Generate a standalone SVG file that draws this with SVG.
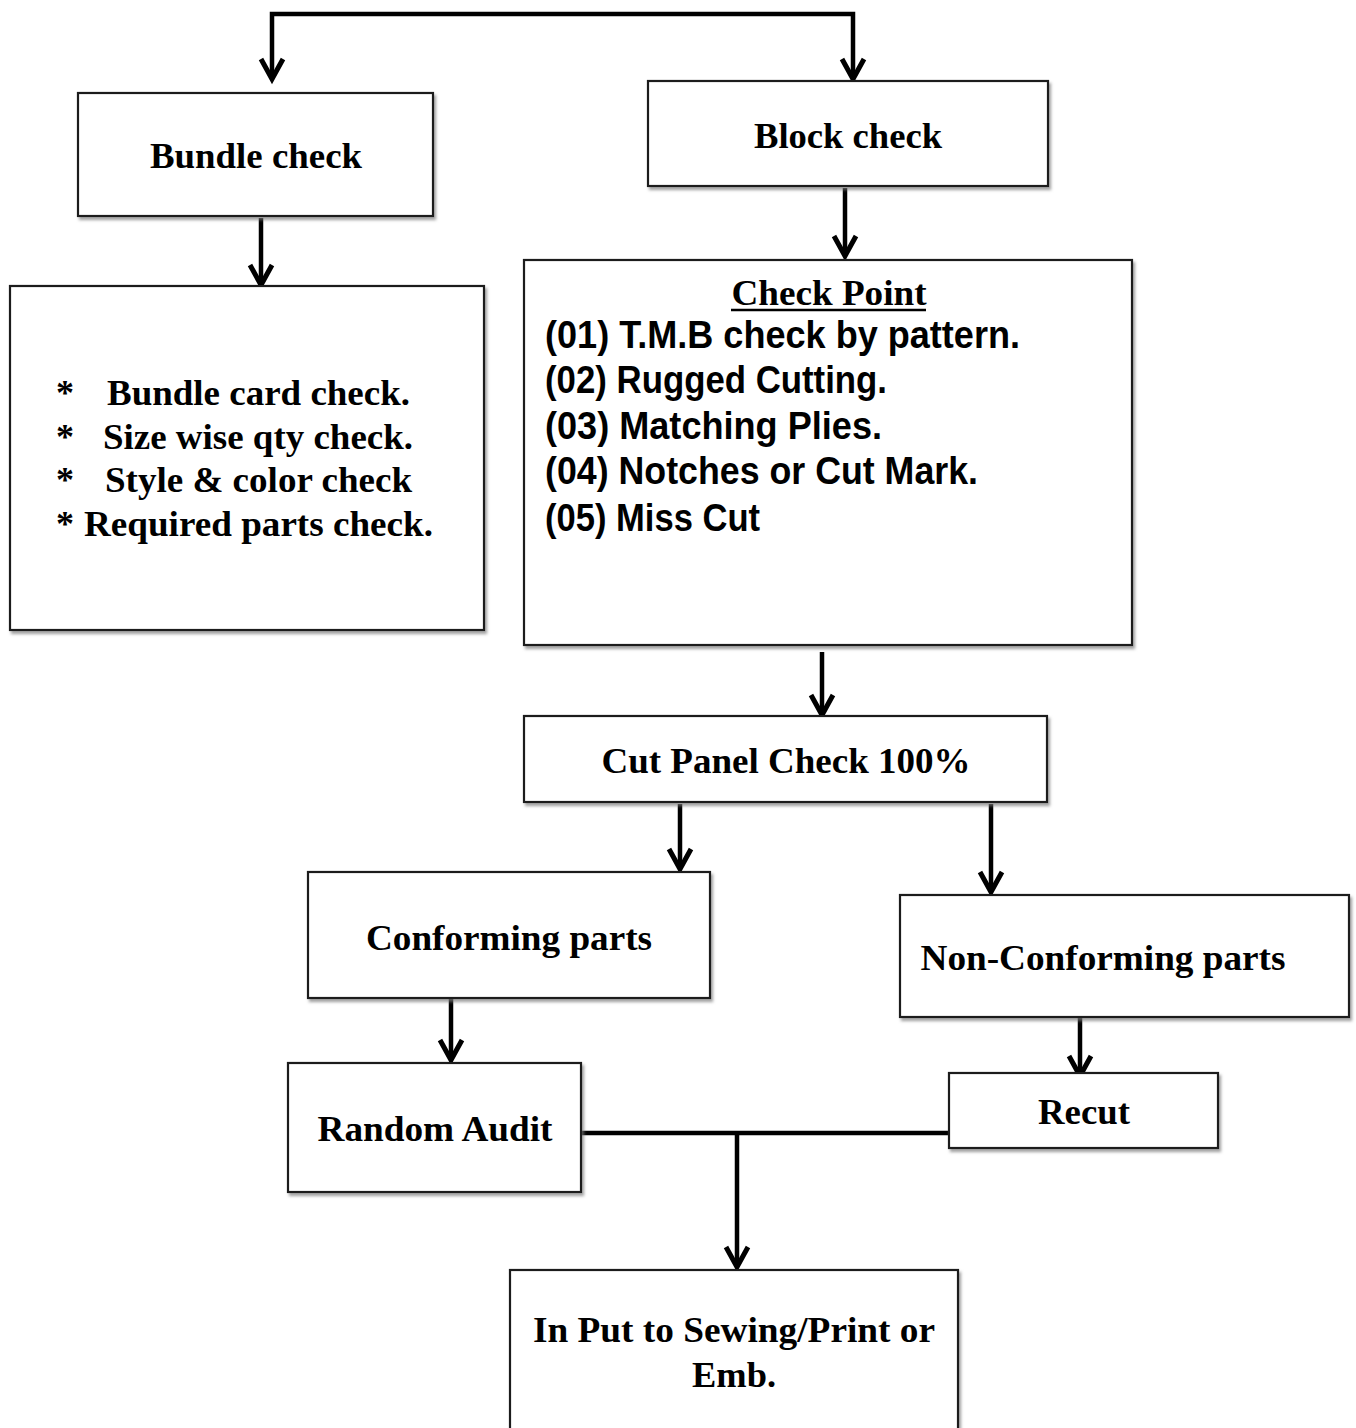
<svg xmlns="http://www.w3.org/2000/svg" width="1356" height="1428" viewBox="0 0 1356 1428">
  <style>
    .box { fill: #ffffff; stroke: #1a1a1a; stroke-width: 2.2; filter: url(#shadow); }
    .serif { font-family: "Liberation Serif", "Times New Roman", serif; font-weight: bold; font-size: 36px; fill: #000; }
    .sans { font-family: "Liberation Sans", Arial, sans-serif; font-weight: bold; font-size: 38px; fill: #000; }
    .wire { fill: none; stroke: #000; stroke-width: 4.5; }
  </style>
  <defs>
    <filter id="shadow" x="-5%" y="-5%" width="115%" height="120%">
      <feDropShadow dx="2" dy="3" stdDeviation="1.6" flood-color="#7a7a7a" flood-opacity="0.7"/>
    </filter>
    <marker id="chev" markerUnits="userSpaceOnUse" viewBox="-26 -16 30 32" refX="0" refY="0" markerWidth="30" markerHeight="32" orient="auto" overflow="visible">
      <path d="M -20 -11 L 0 0 L -20 11" fill="none" stroke="#000" stroke-width="5" stroke-linejoin="miter"/>
    </marker>
  </defs>

  <rect width="1356" height="1428" fill="#ffffff"/>

  <!-- connectors -->
  <g id="connectors">
    <path class="wire" d="M 560 14 H 272 V 79" marker-end="url(#chev)"/>
    <path class="wire" d="M 560 14 H 853 V 79" marker-end="url(#chev)"/>
    <path class="wire" d="M 261 218 V 285" marker-end="url(#chev)"/>
    <path class="wire" d="M 845 188 V 256" marker-end="url(#chev)"/>
    <path class="wire" d="M 822 652 V 715" marker-end="url(#chev)"/>
    <path class="wire" d="M 680 804 V 869" marker-end="url(#chev)"/>
    <path class="wire" d="M 991 804 V 892" marker-end="url(#chev)"/>
    <path class="wire" d="M 451 993 V 1060" marker-end="url(#chev)"/>
    <path class="wire" d="M 1080 1012 V 1076" marker-end="url(#chev)"/>
    <path class="wire" d="M 581 1133 H 949" stroke-width="6"/>
    <path class="wire" d="M 737 1133 V 1267" marker-end="url(#chev)"/>
  </g>

  <g id="bundle-check">
    <rect class="box" x="78" y="93" width="355" height="123"/>
    <text class="serif" x="256" y="168" text-anchor="middle" textLength="212" lengthAdjust="spacingAndGlyphs">Bundle check</text>
  </g>

  <g id="bundle-items">
    <rect class="box" x="10" y="286" width="474" height="344"/>
    <text class="serif" x="56" y="405">*</text>
    <text class="serif" x="56" y="449">*</text>
    <text class="serif" x="56" y="492">*</text>
    <text class="serif" x="56" y="536">*</text>
    <text class="serif" x="107" y="405" textLength="303" lengthAdjust="spacingAndGlyphs">Bundle card check.</text>
    <text class="serif" x="103" y="449" textLength="310" lengthAdjust="spacingAndGlyphs">Size wise qty check.</text>
    <text class="serif" x="105" y="492" textLength="307" lengthAdjust="spacingAndGlyphs">Style &amp; color check</text>
    <text class="serif" x="84" y="536" textLength="349" lengthAdjust="spacingAndGlyphs">Required parts check.</text>
  </g>

  <g id="block-check">
    <rect class="box" x="648" y="81" width="400" height="105"/>
    <text class="serif" x="848" y="148" text-anchor="middle" textLength="188" lengthAdjust="spacingAndGlyphs">Block check</text>
  </g>

  <g id="check-point">
    <rect class="box" x="524" y="260" width="608" height="385"/>
    <text class="serif" x="829" y="305" text-anchor="middle" textLength="195" lengthAdjust="spacingAndGlyphs">Check Point</text>
    <line x1="731" y1="310" x2="926" y2="310" stroke="#000" stroke-width="2.5"/>
    <text class="sans" x="545" y="348" textLength="475" lengthAdjust="spacingAndGlyphs">(01) T.M.B check by pattern.</text>
    <text class="sans" x="545" y="393" textLength="342" lengthAdjust="spacingAndGlyphs">(02) Rugged Cutting.</text>
    <text class="sans" x="545" y="439" textLength="337" lengthAdjust="spacingAndGlyphs">(03) Matching Plies.</text>
    <text class="sans" x="545" y="484" textLength="433" lengthAdjust="spacingAndGlyphs">(04) Notches or Cut Mark.</text>
    <text class="sans" x="545" y="531" textLength="215" lengthAdjust="spacingAndGlyphs">(05) Miss Cut</text>
  </g>

  <g id="cut-panel-check">
    <rect class="box" x="524" y="716" width="523" height="86"/>
    <text class="serif" x="786" y="773" text-anchor="middle" textLength="369" lengthAdjust="spacingAndGlyphs">Cut Panel Check 100%</text>
  </g>

  <g id="conforming">
    <rect class="box" x="308" y="872" width="402" height="126"/>
    <text class="serif" x="509" y="950" text-anchor="middle" textLength="286" lengthAdjust="spacingAndGlyphs">Conforming parts</text>
  </g>

  <g id="non-conforming">
    <rect class="box" x="900" y="895" width="449" height="122"/>
    <text class="serif" x="1103" y="970" text-anchor="middle" textLength="365" lengthAdjust="spacingAndGlyphs">Non-Conforming parts</text>
  </g>

  <g id="random-audit">
    <rect class="box" x="288" y="1063" width="293" height="129"/>
    <text class="serif" x="435" y="1141" text-anchor="middle" textLength="235" lengthAdjust="spacingAndGlyphs">Random Audit</text>
  </g>

  <g id="recut">
    <rect class="box" x="949" y="1073" width="269" height="75"/>
    <text class="serif" x="1084" y="1124" text-anchor="middle" textLength="92" lengthAdjust="spacingAndGlyphs">Recut</text>
  </g>

  <g id="input-sewing">
    <rect class="box" x="510" y="1270" width="448" height="180"/>
    <text class="serif" x="734" y="1342" text-anchor="middle" textLength="402" lengthAdjust="spacingAndGlyphs">In Put to Sewing/Print or</text>
    <text class="serif" x="734" y="1387" text-anchor="middle" textLength="84" lengthAdjust="spacingAndGlyphs">Emb.</text>
  </g>
</svg>
